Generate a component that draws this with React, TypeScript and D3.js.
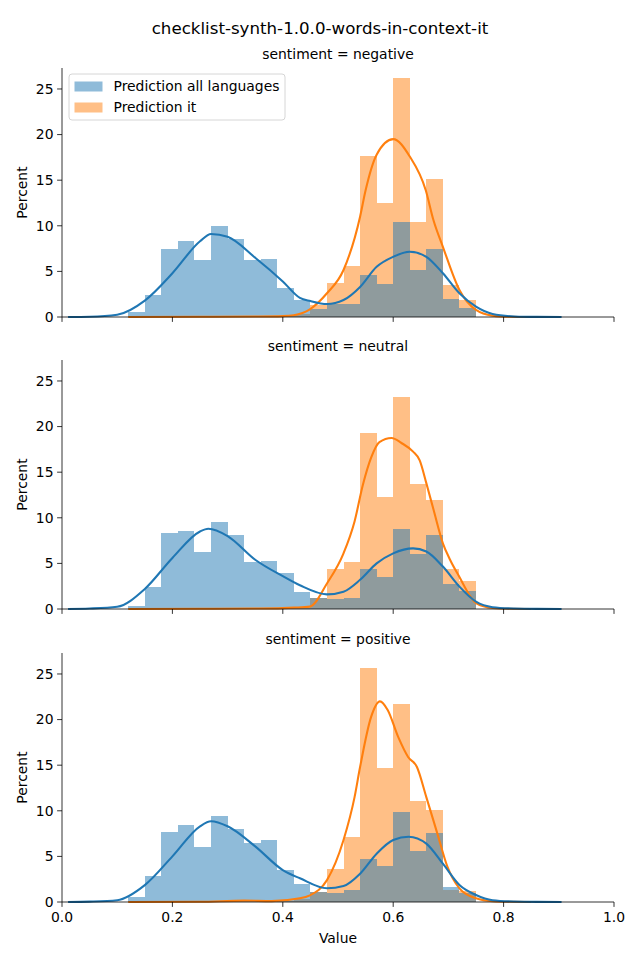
import React from "react";
import * as d3 from "d3";

// ---------- data ----------
const title = "checklist-synth-1.0.0-words-in-context-it";
const sentiments = ["negative", "neutral", "positive"];
const seriesNames = ["Prediction all languages", "Prediction it"];

// left edges of histogram bins (width 0.03)
const binStarts = [0.12, 0.15, 0.18, 0.21, 0.24, 0.27, 0.30, 0.33, 0.36, 0.39, 0.42, 0.45, 0.48, 0.51, 0.54, 0.57, 0.60, 0.63, 0.66, 0.69, 0.72];
const binWidth = 0.03;

const negAll = [0.6, 2.4, 7.5, 8.3, 6.3, 10.0, 8.5, 6.3, 6.4, 3.2, 1.9, 0.9, 1.45, 1.45, 4.6, 3.6, 10.4, 5.15, 7.45, 2.0, 0.95];
const negIt = [0, 0, 0, 0, 0, 0, 0, 0, 0, 0.1, 0.3, 1.3, 3.75, 5.6, 17.7, 12.5, 26.2, 10.4, 15.1, 3.5, 1.9];
const neuAll = [0.3, 2.45, 8.3, 8.55, 6.3, 9.55, 8.1, 5.2, 5.3, 3.9, 1.9, 1.25, 1.05, 1.25, 4.4, 3.5, 8.8, 6.0, 8.1, 2.75, 2.0];
const neuIt = [0, 0, 0, 0, 0, 0, 0, 0, 0.1, 0.15, 0.15, 1.25, 4.4, 5.1, 19.3, 12.3, 23.2, 13.7, 11.95, 4.4, 3.1];
const posAll = [0.5, 2.85, 7.7, 8.4, 6.05, 9.4, 8.05, 6.5, 6.8, 3.5, 1.95, 1.1, 1.0, 1.3, 4.7, 3.95, 9.9, 5.6, 7.6, 1.6, 0.95];
const posIt = [0, 0, 0, 0, 0, 0, 0, 0.05, 0.05, 0.1, 0.3, 1.1, 3.6, 7.1, 25.7, 14.7, 21.75, 11.1, 10.1, 1.3, 1.25];

// KDE curves (x, percent)
const negAllKdeX = [0.011, 0.05, 0.1, 0.15, 0.2, 0.25, 0.27, 0.3, 0.35, 0.4, 0.431, 0.45, 0.48, 0.51, 0.54, 0.57, 0.6, 0.63, 0.66, 0.69, 0.72, 0.75, 0.78, 0.82, 0.86, 0.905];
const negAllKdeY = [0, 0.03, 0.25, 1.8, 4.8, 8.3, 9.1, 8.8, 6.5, 3.9, 2.1, 1.75, 1.42, 1.86, 3.3, 5.5, 6.6, 7.16, 6.6, 4.8, 2.6, 1.13, 0.33, 0.06, 0.01, 0];
const negItKdeX = [0.12, 0.25, 0.35, 0.4, 0.42, 0.449, 0.48, 0.51, 0.54, 0.55, 0.57, 0.6, 0.63, 0.659, 0.673, 0.69, 0.72, 0.75, 0.78, 0.81, 0.85];
const negItKdeY = [0, 0.02, 0.05, 0.1, 0.2, 0.84, 2.6, 5.15, 11.0, 13.9, 17.8, 19.5, 17.6, 13.9, 10.6, 7.7, 2.96, 0.77, 0.15, 0.03, 0];

const neuAllKdeX = [0.011, 0.05, 0.1, 0.15, 0.2, 0.25, 0.265, 0.3, 0.35, 0.4, 0.431, 0.48, 0.51, 0.54, 0.57, 0.6, 0.636, 0.66, 0.69, 0.72, 0.75, 0.78, 0.82, 0.86, 0.905];
const neuAllKdeY = [0, 0.05, 0.25, 2.2, 5.6, 8.5, 8.8, 8.0, 5.4, 3.6, 2.6, 1.6, 1.9, 3.2, 5.0, 6.1, 6.65, 6.3, 4.65, 2.45, 0.8, 0.2, 0.05, 0.01, 0];
const neuItKdeX = [0.12, 0.25, 0.35, 0.4, 0.42, 0.449, 0.48, 0.51, 0.53, 0.545, 0.56, 0.575, 0.597, 0.615, 0.636, 0.648, 0.66, 0.673, 0.69, 0.703, 0.72, 0.74, 0.75, 0.78, 0.81, 0.85];
const neuItKdeY = [0, 0.02, 0.05, 0.1, 0.15, 0.26, 2.8, 6.1, 9.6, 13.6, 16.6, 18.3, 18.75, 18.2, 17.25, 16.3, 13.8, 10.9, 7.2, 5.4, 3.5, 1.35, 0.64, 0.1, 0.02, 0];

const posAllKdeX = [0.011, 0.05, 0.1, 0.15, 0.2, 0.25, 0.27, 0.3, 0.35, 0.4, 0.431, 0.48, 0.51, 0.54, 0.57, 0.6, 0.628, 0.66, 0.69, 0.72, 0.75, 0.78, 0.82, 0.86, 0.905];
const posAllKdeY = [0, 0.04, 0.2, 1.85, 5.0, 8.3, 8.85, 8.3, 6.1, 3.5, 2.6, 1.5, 1.75, 3.1, 5.3, 6.8, 7.16, 6.4, 4.2, 1.86, 0.77, 0.2, 0.05, 0.01, 0];
const posItKdeX = [0.12, 0.25, 0.33, 0.38, 0.431, 0.449, 0.48, 0.51, 0.53, 0.54, 0.56, 0.576, 0.59, 0.609, 0.627, 0.643, 0.66, 0.68, 0.698, 0.72, 0.75, 0.78, 0.81, 0.85];
const posItKdeY = [0, 0.03, 0.15, 0.1, 0.4, 0.73, 2.4, 6.8, 11.5, 14.8, 20.3, 22.0, 21.05, 18.1, 15.9, 14.8, 11.5, 7.5, 3.9, 1.5, 0.4, 0.08, 0.02, 0];

const yTicks = [0, 5, 10, 15, 20, 25];
const xTicks = [0, 0.2, 0.4, 0.6, 0.8, 1.0];

const histAll = [negAll, neuAll, posAll];
const histIt = [negIt, neuIt, posIt];
const kdeAll = [[negAllKdeX, negAllKdeY], [neuAllKdeX, neuAllKdeY], [posAllKdeX, posAllKdeY]];
const kdeIt = [[negItKdeX, negItKdeY], [neuItKdeX, neuItKdeY], [posItKdeX, posItKdeY]];

// ---------- layout ----------
const W = 640;
const H = 960;
const left = 62;
const right = 614;
const panelH = 249;
const panelTops = [68, 360, 653];
const yMax = 27.3;
const FONT = "DejaVu Sans, sans-serif";
const blue = "#1f77b4";
const orange = "#ff7f0e";

const x = d3.scaleLinear().domain([0, 1]).range([left, right]);

function Panel({ idx }: { idx: number }) {
  const top = panelTops[idx];
  const y = d3.scaleLinear().domain([0, yMax]).range([top + panelH, top]);
  const line = d3
    .line<[number, number]>()
    .x((d) => x(d[0]))
    .y((d) => y(d[1]))
    .curve(d3.curveMonotoneX);
  const pts = (k: number[][]) => k[0].map((v, i) => [v, k[1][i]] as [number, number]);
  const bottom = top + panelH;
  const isLast = idx === sentiments.length - 1;

  const bars = (vals: number[], color: string) =>
    vals.map((v, i) =>
      v > 0 ? (
        <rect
          key={i}
          x={x(binStarts[i])}
          y={y(v)}
          width={x(binStarts[i] + binWidth) - x(binStarts[i])}
          height={y(0) - y(v)}
          fill={color}
          fillOpacity={0.5}
          shapeRendering="crispEdges"
        />
      ) : null
    );

  return (
    <g>
      <text x={(left + right) / 2} y={top - 9} textAnchor="middle" fontSize={13.9} fontFamily={FONT}>
        {`sentiment = ${sentiments[idx]}`}
      </text>
      <g>{bars(histIt[idx], orange)}</g>
      <g>{bars(histAll[idx], blue)}</g>
      <path d={line(pts(kdeIt[idx])) || ""} fill="none" stroke={orange} strokeWidth={2.08} />
      <path d={line(pts(kdeAll[idx])) || ""} fill="none" stroke={blue} strokeWidth={2.08} />
      {/* spines */}
      <line x1={left} x2={left} y1={top} y2={bottom} stroke="black" strokeWidth={0.8} />
      <line x1={left} x2={right} y1={bottom} y2={bottom} stroke="black" strokeWidth={0.8} />
      {yTicks.map((t) => (
        <g key={t}>
          <line x1={left - 4.9} x2={left} y1={y(t)} y2={y(t)} stroke="black" strokeWidth={0.8} />
          <text x={left - 8.5} y={y(t)} dy="0.35em" textAnchor="end" fontSize={13.9} fontFamily={FONT}>
            {t}
          </text>
        </g>
      ))}
      {xTicks.map((t) => (
        <g key={t}>
          <line x1={x(t)} x2={x(t)} y1={bottom} y2={bottom + 4.9} stroke="black" strokeWidth={0.8} />
          {isLast ? (
            <text x={x(t)} y={bottom + 9.8} dy="0.76em" textAnchor="middle" fontSize={13.9} fontFamily={FONT}>
              {t.toFixed(1)}
            </text>
          ) : null}
        </g>
      ))}
      <text
        transform={`translate(${22},${top + panelH / 2}) rotate(-90)`}
        textAnchor="middle"
        dy="0.35em"
        fontSize={13.9}
        fontFamily={FONT}
      >
        Percent
      </text>
    </g>
  );
}

function Legend() {
  const lx = 69;
  const ly = 74;
  const colors = [blue, orange];
  return (
    <g>
      <rect x={lx} y={ly} width={216} height={46} rx={3} fill="white" fillOpacity={0.8} stroke="#cccccc" strokeWidth={0.8} />
      {seriesNames.map((n, i) => (
        <g key={n}>
          <rect x={lx + 5.5} y={ly + 7.5 + i * 21} width={28} height={10} fill={colors[i]} fillOpacity={0.5} />
          <text x={lx + 44.5} y={ly + 12.5 + i * 21} dy="0.35em" fontSize={13.9} fontFamily={FONT}>
            {n}
          </text>
        </g>
      ))}
    </g>
  );
}

export default function App() {
  return (
    <svg width={W} height={H} style={{ display: "block", position: "absolute", left: 0, top: 0, background: "white" }}>
      <rect x={0} y={0} width={W} height={H} fill="white" />
      <text x={W / 2} y={28} dy="0.35em" textAnchor="middle" fontSize={16.67} fontFamily={FONT}>
        {title}
      </text>
      {sentiments.map((s, i) => (
        <Panel key={s} idx={i} />
      ))}
      <Legend />
      <text x={(left + right) / 2} y={938} dy="0.35em" textAnchor="middle" fontSize={13.9} fontFamily={FONT}>
        Value
      </text>
    </svg>
  );
}
